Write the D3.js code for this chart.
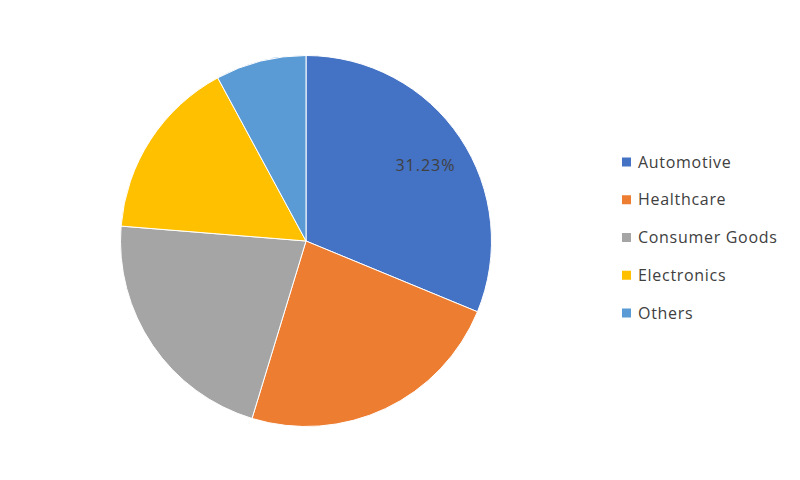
<!DOCTYPE html>
<html><head><meta charset="utf-8">
<script src="https://cdn.jsdelivr.net/npm/d3@7"></script>
<style>body{margin:0;background:#fff}svg{display:block}</style>
</head><body>
<svg id="chart" width="800" height="480"></svg>
<script>
const categories = ["Automotive", "Healthcare", "Consumer Goods", "Electronics", "Others"];
const shares = [31.23, 23.47, 21.58, 15.83, 7.89];
const colors = ["#4472C4", "#ED7D31", "#A5A5A5", "#FFC000", "#5B9BD5"];
const shownLabels = ["31.23%", null, null, null, null];

const svg = d3.select("#chart");
const cx = 306, cy = 241, r = 185.5;
const data = categories.map((c, i) => ({cat: c, value: shares[i], label: shownLabels[i]}));
const pie = d3.pie().value(d => d.value).sort(null);
const arc = d3.arc().innerRadius(0).outerRadius(r);
const labelArc = d3.arc().innerRadius(r * 0.775).outerRadius(r * 0.775);
const color = d3.scaleOrdinal().domain(categories).range(colors);

const g = svg.append("g").attr("transform", `translate(${cx},${cy})`);
const arcs = pie(data);
g.selectAll("path").data(arcs).join("path")
  .attr("d", arc).attr("fill", d => color(d.data.cat))
  .attr("stroke", "#fff").attr("stroke-width", 1);

g.selectAll("text").data(arcs.filter(d => d.data.label)).join("text")
  .attr("transform", d => `translate(${labelArc.centroid(d)})`)
  .attr("text-anchor", "middle").attr("dy", "0.65em")
  .attr("font-family", "Open Sans, sans-serif").attr("font-size", 16)
  .attr("letter-spacing", 1)
  .attr("fill", "#404040").text(d => d.data.label);

const legendY = d3.scalePoint().domain(categories).range([162, 313]);
const lg = svg.append("g");
const items = lg.selectAll("g").data(categories).join("g")
  .attr("transform", d => `translate(622,${legendY(d)})`);
items.append("rect").attr("x", 0).attr("y", -4.5).attr("width", 9).attr("height", 9)
  .attr("fill", d => color(d));
items.append("text").attr("x", 16).attr("dy", "0.35em")
  .attr("font-family", "Open Sans, sans-serif").attr("font-size", 16)
  .attr("letter-spacing", 0.7)
  .attr("fill", "#404040").text(d => d);
</script>
</body></html>
